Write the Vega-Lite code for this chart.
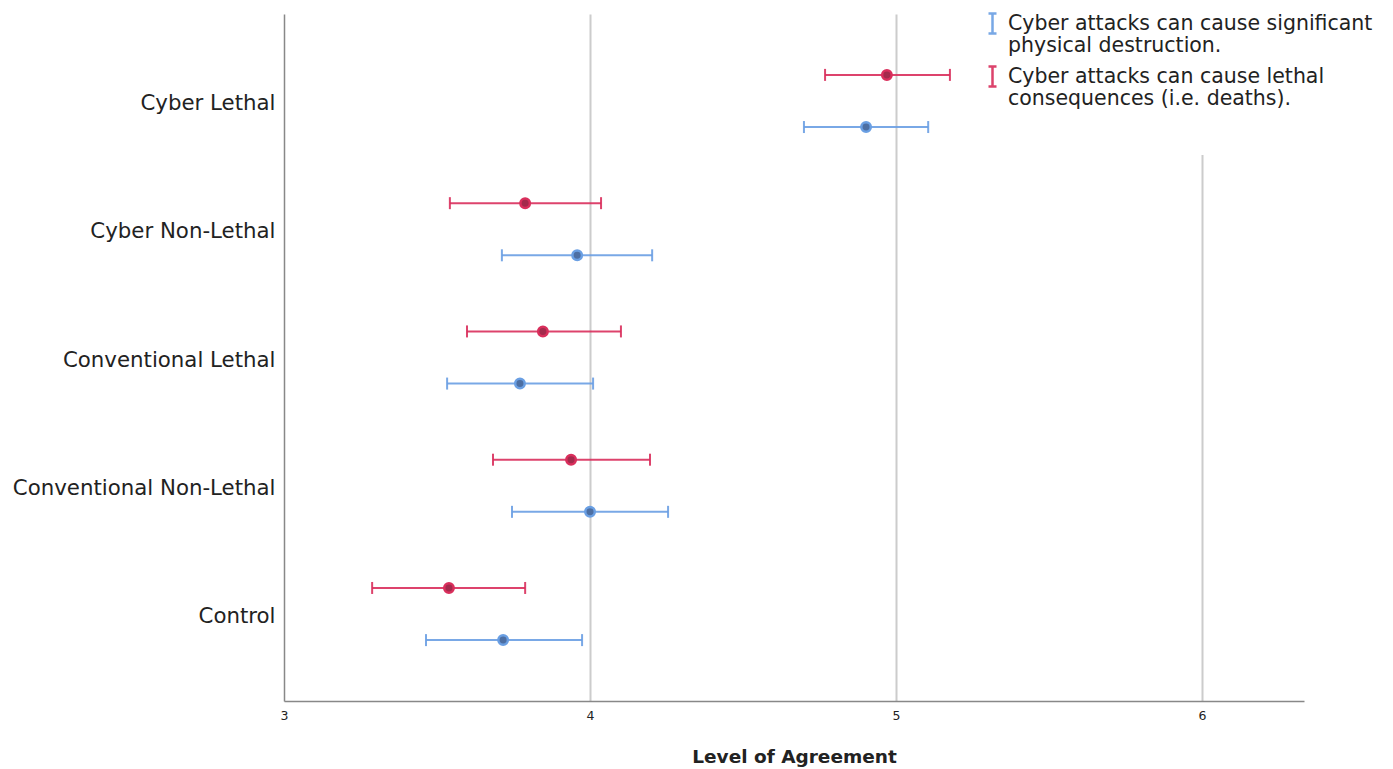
{
  "$schema": "https://vega.github.io/schema/vega-lite/v6.json",
  "autosize": "none",
  "width": 1020,
  "height": 687,
  "padding": {"left": 284, "top": 14, "right": 89, "bottom": 68},
  "background": "white",
  "config": {
    "view": {"stroke": null},
    "font": "DejaVu Sans"
  },
  "data": {
    "values": [
      {"condition": "Cyber Lethal", "item": "Cyber attacks can cause lethal consequences (i.e. deaths).", "mean": 4.97, "lo": 4.768, "hi": 5.176},
      {"condition": "Cyber Lethal", "item": "Cyber attacks can cause significant physical destruction.", "mean": 4.902, "lo": 4.699, "hi": 5.105},
      {"condition": "Cyber Non-Lethal", "item": "Cyber attacks can cause lethal consequences (i.e. deaths).", "mean": 3.788, "lo": 3.542, "hi": 4.036},
      {"condition": "Cyber Non-Lethal", "item": "Cyber attacks can cause significant physical destruction.", "mean": 3.958, "lo": 3.712, "hi": 4.203},
      {"condition": "Conventional Lethal", "item": "Cyber attacks can cause lethal consequences (i.e. deaths).", "mean": 3.846, "lo": 3.598, "hi": 4.101},
      {"condition": "Conventional Lethal", "item": "Cyber attacks can cause significant physical destruction.", "mean": 3.771, "lo": 3.533, "hi": 4.01},
      {"condition": "Conventional Non-Lethal", "item": "Cyber attacks can cause lethal consequences (i.e. deaths).", "mean": 3.938, "lo": 3.683, "hi": 4.196},
      {"condition": "Conventional Non-Lethal", "item": "Cyber attacks can cause significant physical destruction.", "mean": 4.0, "lo": 3.745, "hi": 4.255},
      {"condition": "Control", "item": "Cyber attacks can cause lethal consequences (i.e. deaths).", "mean": 3.539, "lo": 3.288, "hi": 3.788},
      {"condition": "Control", "item": "Cyber attacks can cause significant physical destruction.", "mean": 3.716, "lo": 3.464, "hi": 3.974}
    ]
  },
  "encoding": {
    "y": {
      "field": "condition",
      "type": "nominal",
      "sort": ["Cyber Lethal", "Cyber Non-Lethal", "Conventional Lethal", "Conventional Non-Lethal", "Control"],
      "scale": {"paddingInner": 0, "paddingOuter": 0.178},
      "axis": {
        "title": null,
        "ticks": false,
        "grid": false,
        "domainColor": "#888888",
        "domainWidth": 1.5,
        "labelFontSize": 21.3,
        "labelColor": "#222222",
        "labelPadding": 9,
        "labelOffset": 3,
        "labelLimit": 400
      }
    },
    "yOffset": {
      "field": "item",
      "type": "nominal",
      "scale": {
        "domain": ["Cyber attacks can cause lethal consequences (i.e. deaths).", "Cyber attacks can cause significant physical destruction."],
        "paddingInner": 0,
        "paddingOuter": 0.23
      }
    }
  },
  "layer": [
    {
      "mark": {"type": "rule", "strokeWidth": 2, "opacity": 0.9},
      "encoding": {
        "x": {
          "field": "lo",
          "type": "quantitative",
          "scale": {"domain": [3, 6.333], "nice": false, "zero": false},
          "axis": {
            "title": "Level of Agreement",
            "titleFontSize": 18.5,
            "titleFontWeight": "bold",
            "titleColor": "#222222",
            "titlePadding": 26,
            "values": [3, 4, 5, 6],
            "format": "d",
            "labelFlush": false,
            "ticks": false,
            "labelFontSize": 12.5,
            "labelColor": "#222222",
            "labelPadding": 8,
            "domainColor": "#888888",
            "domainWidth": 1.5,
            "grid": true,
            "gridColor": "#cccccc",
            "gridWidth": 2,
            "gridOpacity": {"expr": "datum.value == 3 ? 0 : 1"}
          }
        },
        "x2": {"field": "hi"},
        "color": {
          "field": "item",
          "type": "nominal",
          "scale": {
            "domain": ["Cyber attacks can cause significant physical destruction.", "Cyber attacks can cause lethal consequences (i.e. deaths)."],
            "range": ["#6a9fe3", "#d92f5c"]
          },
          "legend": {
            "title": " ",
            "titleOrient": "bottom",
            "titleFontSize": 24,
            "titlePadding": 9,
            "orient": "none",
            "legendX": 685,
            "legendY": -14,
            "padding": 12,
            "fillColor": "white",
            "labelFontSize": 20.5,
            "labelLineHeight": 22,
            "labelColor": "#222222",
            "labelLimit": 600,
            "labelOffset": 4,
            "labelBaseline": "middle",
            "rowPadding": 4,
            "symbolType": "M-0.4,-1L0.4,-1M0,-1L0,1M-0.4,1L0.4,1",
            "symbolSize": 400,
            "symbolStrokeWidth": 2.5,
            "symbolFillColor": "transparent",
            "symbolOpacity": 1,
            "labelExpr": "indexof(datum.value, 'significant') >= 0 ? ['Cyber attacks can cause significant', 'physical destruction.'] : ['Cyber attacks can cause lethal', 'consequences (i.e. deaths).']"
          }
        }
      }
    },
    {
      "mark": {"type": "tick", "thickness": 2, "size": 12, "opacity": 0.9},
      "encoding": {
        "x": {"field": "lo", "type": "quantitative"},
        "color": {"field": "item", "type": "nominal"}
      }
    },
    {
      "mark": {"type": "tick", "thickness": 2, "size": 12, "opacity": 0.9},
      "encoding": {
        "x": {"field": "hi", "type": "quantitative"},
        "color": {"field": "item", "type": "nominal"}
      }
    },
    {
      "mark": {"type": "point", "filled": false, "size": 90, "strokeWidth": 2.5, "shape": "circle", "opacity": 1},
      "encoding": {
        "x": {"field": "mean", "type": "quantitative"},
        "stroke": {
          "field": "item",
          "type": "nominal",
          "scale": {
            "domain": ["Cyber attacks can cause significant physical destruction.", "Cyber attacks can cause lethal consequences (i.e. deaths)."],
            "range": ["#6a9fe3", "#d92f5c"]
          },
          "legend": null
        },
        "fill": {
          "field": "item",
          "type": "nominal",
          "scale": {
            "domain": ["Cyber attacks can cause significant physical destruction.", "Cyber attacks can cause lethal consequences (i.e. deaths)."],
            "range": ["#4d6fa3", "#a42a4c"]
          },
          "legend": null
        },
        "fillOpacity": {"value": 1}
      }
    }
  ]
}
